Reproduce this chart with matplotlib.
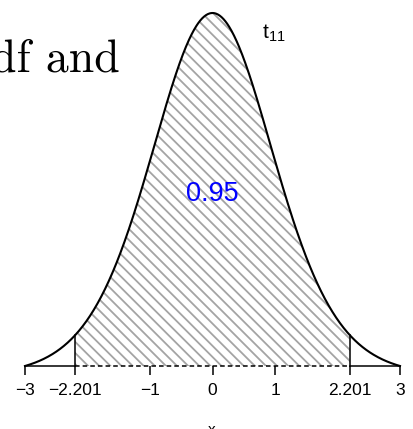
import math
import numpy as np
import matplotlib
matplotlib.use('Agg')
import matplotlib.pyplot as plt

# t distribution, 11 degrees of freedom, central 95% region
gl = 11
t_crit = 2.201
area = 0.95
x_lo, x_hi = -3, 3
ticks = [-3, -t_crit, -1, 0, 1, t_crit, 3]
tick_labels = ['\u22123', '\u22122.201', '\u22121', '0', '1', '2.201', '3']

def dens_t(x, n):
    c = math.gamma((n + 1) / 2) / (math.sqrt(n * math.pi) * math.gamma(n / 2))
    return c * (1 + x**2 / n) ** (-(n + 1) / 2)

plt.rcParams['hatch.linewidth'] = 1.3
plt.rcParams['hatch.color'] = '#a4a4a4'
plt.rcParams['mathtext.fontset'] = 'custom'
plt.rcParams['mathtext.rm'] = 'Liberation Sans'

fig = plt.figure(figsize=(4.13, 4.29), dpi=100)
ax = fig.add_axes([25/413, 63/429, 375/413, 353/429])

xs = np.linspace(x_lo, x_hi, 600)
ys = dens_t(xs, gl)
xm = np.linspace(-t_crit, t_crit, 400)
ym = dens_t(xm, gl)
base = dens_t(x_hi, gl)  # el eje se apoya en el extremo de la curva

# zona sombreada
ax.fill_between(xm, base, ym, facecolor='none', edgecolor='#a4a4a4',
                hatch='\\\\\\', linewidth=0, clip_on=False)
ax.plot(xs, ys, color='black', lw=1.5, clip_on=False)
for v in (-t_crit, t_crit):
    ax.plot([v, v], [base, dens_t(v, gl)], color='black', lw=1.1, clip_on=False)

# eje inferior
ax.plot([x_lo, -t_crit], [base, base], color='black', lw=1.1, clip_on=False)
ax.plot([t_crit, x_hi], [base, base], color='black', lw=1.1, clip_on=False)
ax.plot([-t_crit, t_crit], [base, base], color='black', lw=1.1,
        ls=(0, (3, 2)), clip_on=False)

ax.set_xlim(x_lo, x_hi)
ax.set_ylim(base, dens_t(0, gl))
for s in ax.spines.values():
    s.set_visible(False)
ax.set_yticks([])
ax.set_xticks(ticks)
ax.set_xticklabels(tick_labels, fontsize=12.5, family='Liberation Sans')
ax.tick_params(axis='x', length=6.5, width=1.1, pad=6)

ax.text(0.5, (366 - 194) / 353, f'{area:.2f}', transform=ax.transAxes,
        color='#0000ff', fontsize=19.5, family='Liberation Sans',
        ha='center', va='center')
fig.text(262/413, 1 - 38/429, r'$\mathrm{t}_{11}$', fontsize=15, ha='left',
         va='baseline')
fig.text(120/413, 1 - 72/429, 'df and', family='cmr10', fontsize=33,
         ha='right', va='baseline')
fig.text(212/413, 1 - 423/429, 'x', fontsize=11, family='Liberation Sans',
         ha='center', va='top')

fig.savefig('out.png', dpi=100)
